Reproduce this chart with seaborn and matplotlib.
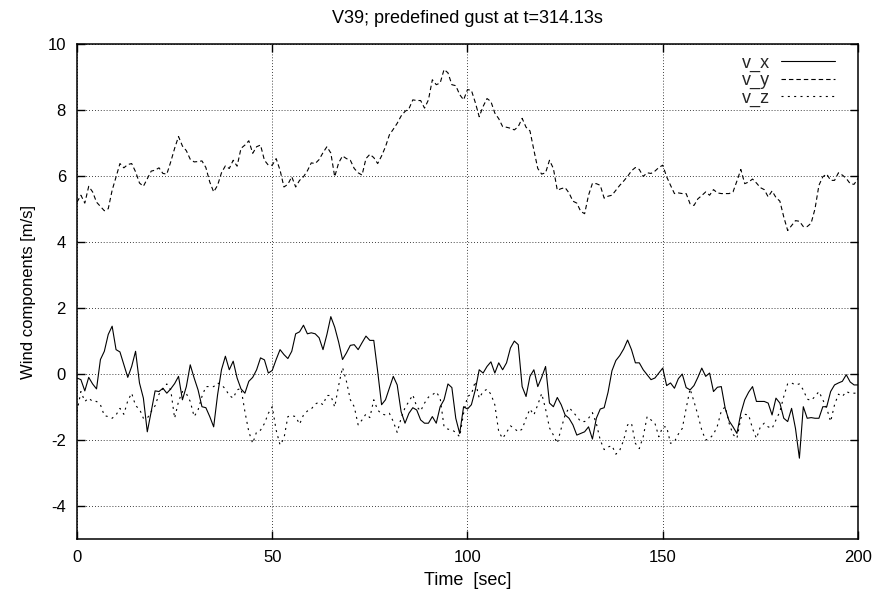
import numpy as np
import pandas as pd
import matplotlib
matplotlib.use("Agg")
import matplotlib.pyplot as plt
import seaborn as sns

# ---- data ----
time_s = list(range(0, 201))

v_y = [5.21, 5.42, 5.18, 5.69, 5.52, 5.21, 5.08, 4.95, 5.01, 5.57,
       5.98, 6.38, 6.25, 6.35, 6.38, 6.13, 5.79, 5.69, 5.92, 6.15,
       6.18, 6.25, 6.08, 6.06, 6.43, 6.84, 7.20, 6.91, 6.77, 6.51,
       6.43, 6.44, 6.46, 6.26, 5.82, 5.52, 5.72, 6.10, 6.31, 6.23,
       6.48, 6.30, 6.84, 6.94, 7.07, 6.69, 6.89, 6.94, 6.48, 6.33,
       6.33, 6.53, 6.18, 5.67, 5.75, 5.98, 5.67, 5.87, 5.98, 6.16,
       6.40, 6.38, 6.50, 6.71, 6.89, 6.70, 5.98, 6.40, 6.61, 6.53,
       6.48, 6.23, 6.10, 6.03, 6.53, 6.66, 6.56, 6.38, 6.61, 6.89,
       7.25, 7.42, 7.60, 7.82, 7.96, 8.04, 8.31, 8.29, 8.29, 8.06,
       8.31, 8.92, 8.77, 8.82, 9.23, 9.13, 8.77, 8.74, 8.47, 8.31,
       8.62, 8.60, 8.23, 7.80, 8.11, 8.35, 8.26, 7.91, 7.74, 7.50,
       7.48, 7.45, 7.40, 7.50, 7.75, 7.48, 7.37, 6.79, 6.23, 6.06,
       6.10, 6.48, 6.23, 5.57, 5.62, 5.65, 5.49, 5.24, 5.18, 4.93,
       4.86, 5.42, 5.78, 5.77, 5.72, 5.33, 5.39, 5.42, 5.57, 5.72,
       5.85, 5.99, 6.16, 6.26, 6.20, 5.99, 6.10, 6.08, 6.15, 6.26,
       6.33, 5.98, 5.72, 5.47, 5.49, 5.47, 5.47, 5.16, 5.11, 5.31,
       5.41, 5.52, 5.42, 5.59, 5.49, 5.47, 5.47, 5.47, 5.52, 5.85,
       6.20, 5.77, 5.82, 5.91, 5.79, 5.65, 5.59, 5.37, 5.55, 5.35,
       5.24, 4.76, 4.35, 4.50, 4.65, 4.63, 4.47, 4.47, 4.57, 5.01,
       5.72, 5.98, 6.06, 5.87, 5.87, 6.10, 6.03, 5.93, 5.77, 5.75, 5.93]

v_x = [-0.12, -0.17, -0.51, -0.10, -0.30, -0.45, 0.44, 0.69, 1.20, 1.45,
       0.74, 0.67, 0.28, -0.10, 0.23, 0.69, -0.27, -0.73, -1.75, -1.14,
       -0.51, -0.53, -0.43, -0.58, -0.45, -0.29, -0.07, -0.78, -0.38, 0.28,
       -0.12, -0.48, -0.99, -1.02, -1.29, -1.60, -0.63, 0.13, 0.54, 0.13,
       0.39, -0.12, -0.45, -0.58, -0.22, -0.10, 0.13, 0.49, 0.43, 0.03,
       0.11, 0.44, 0.74, 0.59, 0.47, 0.69, 1.22, 1.28, 1.48, 1.22,
       1.25, 1.22, 1.10, 0.74, 1.20, 1.74, 1.42, 0.97, 0.44, 0.64,
       0.87, 0.89, 0.74, 0.95, 1.15, 1.02, 1.02, 0.08, -0.93, -0.78,
       -0.43, -0.07, -0.33, -1.14, -1.49, -1.19, -1.02, -1.09, -1.39, -1.49,
       -1.49, -1.29, -1.49, -0.99, -0.78, -0.30, -0.41, -1.34, -1.80, -0.99,
       -1.06, -0.93, -0.48, 0.13, 0.03, 0.23, 0.37, 0.03, 0.34, 0.13,
       0.34, 0.79, 1.00, 0.89, -0.38, -0.68, -0.07, 0.13, -0.38, -0.10,
       0.23, -0.88, -0.99, -0.71, -0.93, -1.24, -1.34, -1.54, -1.85, -1.80,
       -1.75, -1.60, -1.97, -1.34, -1.06, -1.02, -0.55, 0.10, 0.41, 0.56,
       0.76, 1.03, 0.74, 0.34, 0.34, 0.13, -0.02, -0.17, -0.12, 0.03,
       0.18, -0.35, -0.27, -0.43, -0.14, 0.00, -0.41, -0.48, -0.35, -0.10,
       0.18, -0.07, 0.03, -0.53, -0.40, -0.38, -1.04, -1.42, -1.60, -1.80,
       -1.19, -0.78, -0.55, -0.38, -0.83, -0.83, -0.83, -0.88, -1.24, -0.73,
       -0.88, -1.34, -1.44, -1.04, -1.65, -2.55, -0.99, -1.34, -1.32, -1.34,
       -1.34, -0.99, -0.99, -0.53, -0.33, -0.27, -0.22, -0.02, -0.24, -0.33, -0.33]

v_z = [-1.14, -0.53, -0.83, -0.73, -0.83, -0.83, -0.93, -1.26, -1.29, -1.34,
       -1.24, -1.04, -1.22, -0.81, -0.58, -0.96, -1.06, -1.34, -1.34, -1.14,
       -0.96, -0.61, -0.45, -0.30, -0.48, -1.34, -0.83, -0.53, -0.59, -0.83,
       -1.29, -1.09, -0.68, -0.38, -0.38, -0.38, -0.27, -0.33, -0.45, -0.65,
       -0.73, -0.48, -0.43, -1.14, -1.75, -2.10, -1.75, -1.70, -1.50, -1.19,
       -0.99, -1.70, -2.15, -1.95, -1.29, -1.26, -1.29, -1.52, -1.24, -1.12,
       -1.06, -0.91, -0.85, -0.93, -0.65, -0.65, -1.00, -0.35, 0.20, -0.22,
       -0.78, -0.99, -1.54, -1.39, -1.21, -1.32, -0.78, -1.09, -1.21, -1.24,
       -1.19, -1.44, -1.77, -1.34, -1.02, -0.83, -0.63, -0.99, -1.12, -0.88,
       -0.70, -0.63, -0.54, -0.73, -1.60, -1.67, -1.69, -1.77, -1.90, -1.19,
       -0.68, -0.61, -0.22, -0.73, -0.53, -0.46, -0.61, -0.93, -1.75, -1.95,
       -1.77, -1.57, -1.65, -1.75, -1.67, -1.34, -1.06, -1.24, -0.93, -0.59,
       -1.06, -1.63, -1.85, -2.10, -1.65, -1.24, -1.02, -1.14, -1.29, -1.44,
       -1.44, -1.34, -1.17, -1.50, -2.00, -2.29, -2.21, -2.17, -2.43, -2.31,
       -2.00, -1.54, -1.49, -2.10, -2.26, -1.90, -1.29, -1.39, -1.49, -1.90,
       -1.60, -1.60, -2.10, -2.05, -1.82, -1.65, -1.04, -0.45, -0.83, -1.24,
       -1.70, -2.00, -1.95, -1.83, -1.57, -1.12, -0.99, -1.49, -1.83, -1.95,
       -1.34, -1.22, -1.24, -1.65, -1.95, -1.60, -1.49, -1.60, -1.65, -1.39,
       -1.14, -0.68, -0.29, -0.27, -0.33, -0.30, -0.48, -0.76, -0.80, -0.68,
       -0.53, -0.78, -1.04, -1.44, -0.93, -0.61, -0.68, -0.53, -0.58, -0.58, -0.58]

x_ticks = [0, 50, 100, 150, 200]
y_ticks = [-4, -2, 0, 2, 4, 6, 8, 10]
series_labels = ["v_x", "v_y", "v_z"]
title_text = "V39; predefined gust at t=314.13s"

# ---- style ----
sns.set_theme(style="white")
plt.rcParams["font.family"] = ["Liberation Sans", "DejaVu Sans"]
plt.rcParams["axes.unicode_minus"] = False

df = pd.DataFrame({"t": time_s, "v_x": v_x, "v_y": v_y, "v_z": v_z})

fig = plt.figure(figsize=(8.77, 5.96), dpi=100)
ax = fig.add_axes([0.0878, 0.0956, 0.9783 - 0.0878, 0.926 - 0.0956])

lw = 0.8
styles = {
    "v_x": "-",
    "v_y": (0, (4.0, 2.7)),
    "v_z": (0, (1.8, 3.9)),
}
for name in series_labels:
    sns.lineplot(data=df, x="t", y=name, ax=ax, color="black", lw=lw,
                 linestyle=styles[name], label=name, legend=False)

ax.set_xlim(0, 200)
ax.set_ylim(-5, 10)
ax.set_xticks(x_ticks)
ax.set_yticks(y_ticks)
ax.set_xticklabels([str(v) for v in x_ticks])
ax.set_yticklabels([str(v) for v in y_ticks])

ax.grid(True, color="black", linestyle=(0, (1, 2.5)), linewidth=0.6)
for sp in ax.spines.values():
    sp.set_visible(True)
    sp.set_color("black")
    sp.set_linewidth(1.1)

ax.tick_params(axis="both", which="major", direction="in", length=6,
               width=1.0, color="black", labelsize=12, labelcolor="black",
               top=True, right=True, bottom=True, left=True, pad=8)

ax.set_xlabel("Time  [sec]", fontsize=13, color="black", labelpad=5)
ax.set_ylabel("Wind components [m/s]", fontsize=12, color="black", labelpad=8)
ax.set_title(title_text, fontsize=13, color="black", pad=15)

leg = ax.legend(loc="upper right", bbox_to_anchor=(0.9705, 0.979),
                frameon=False, markerfirst=False, fontsize=13,
                handlelength=3.0, handletextpad=0.6, labelspacing=0.02,
                borderpad=0, borderaxespad=0)
for line in leg.get_lines():
    line.set_linewidth(lw)

fig.savefig("out.png", dpi=100, facecolor="white")
